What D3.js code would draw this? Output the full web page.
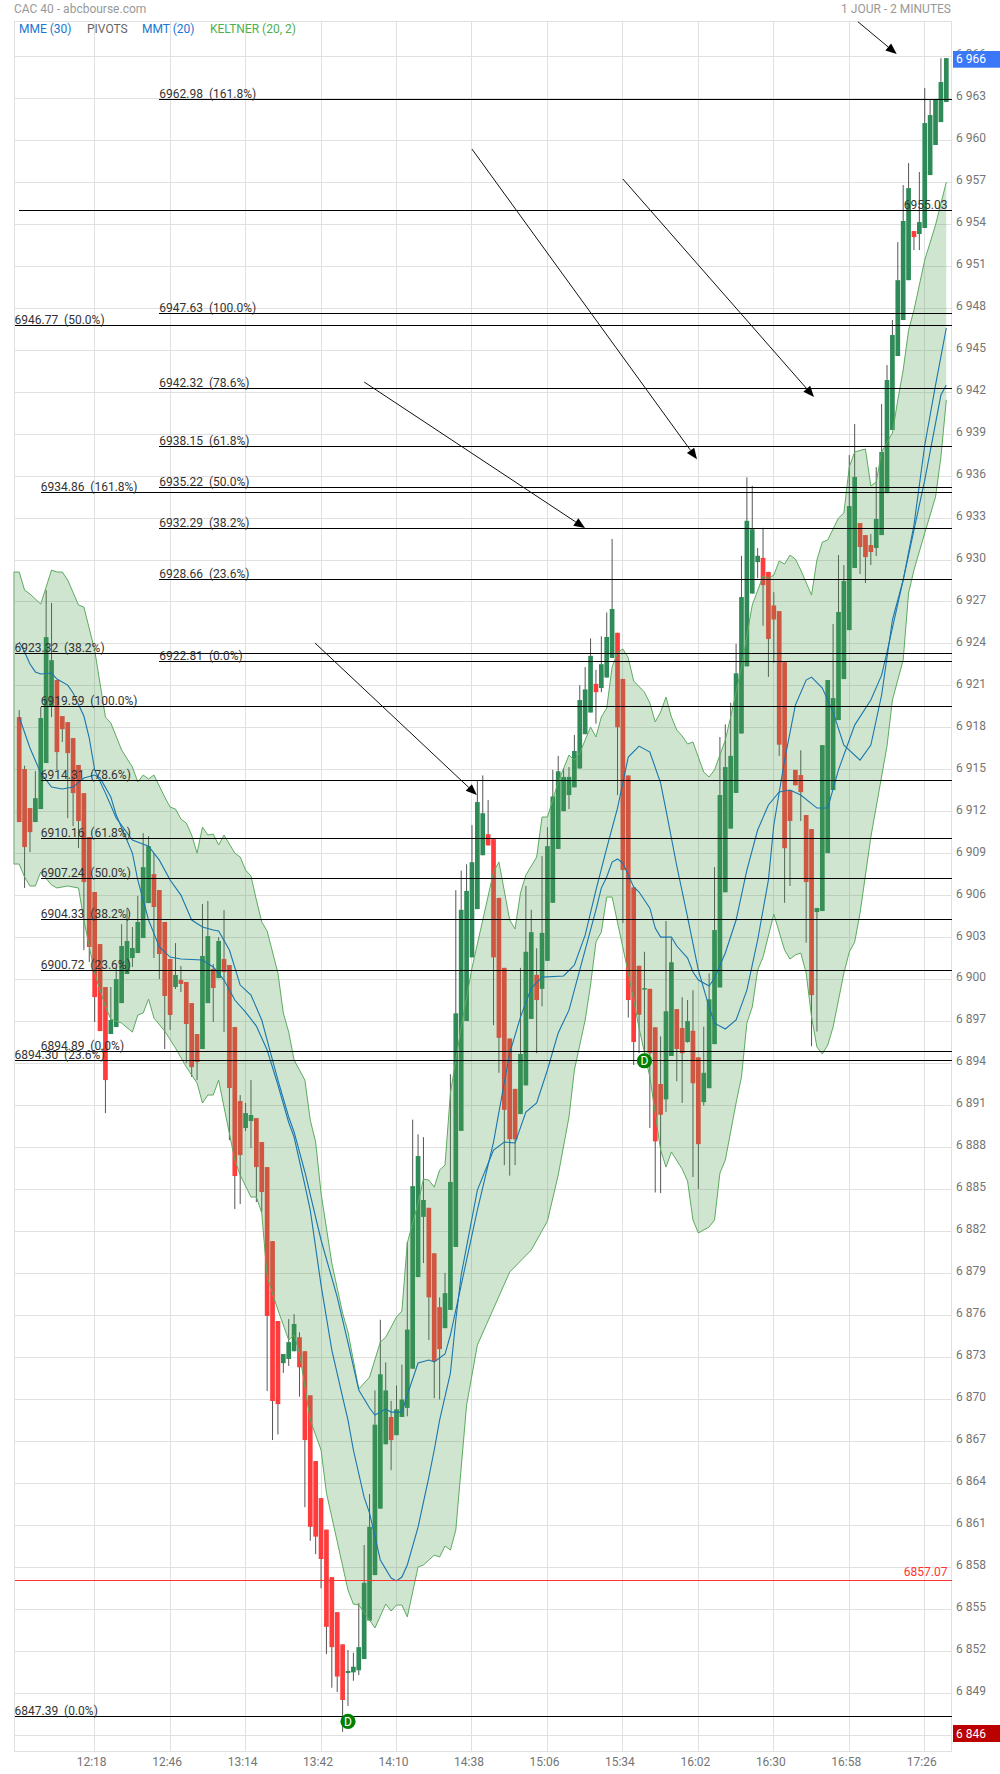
<!DOCTYPE html>
<html><head><meta charset="utf-8">
<style>html,body{margin:0;padding:0;background:#fff}svg{display:block}text{font-family:Roboto,sans-serif}</style>
<script src="https://cdnjs.cloudflare.com/ajax/libs/d3/7.8.5/d3.min.js"></script>
</head><body><svg id="c" width="1000" height="1774"></svg>
<script>
const open=[6918.77,6915.06,6912.27,6911.27,6912.2,6915.49,6919.56,6921.42,6918.84,6918.41,
6917.27,6915.35,6913.34,6910.2,6906.27,6902.55,6899.48,6896.12,6896.62,6898.33,
6900.41,6901.55,6901.91,6902.98,6905.48,6907.55,6906.41,6904.13,6901.48,6899.48,
6899.98,6899.84,6898.33,6896.12,6895.05,6898.33,6900.77,6900.12,6901.48,6901.05,
6896.62,6891.33,6889.4,6889.9,6890.11,6888.4,6886.61,6881.32,6875.61,6872.6,
6872.9,6873.45,6874.45,6873.45,6870.3,6865.6,6862.95,6860.7,6857.3,6854.8,
6852.5,6850.45,6850.5,6850.65,6851.45,6854.2,6857.45,6862.2,6866.8,6868.75,
6867.45,6868.75,6869.4,6872.2,6878.75,6883.05,6883.7,6880.45,6876.6,6875.1,
6876.4,6880.9,6889.2,6897.05,6901.6,6905.05,6908.9,6910.4,6910.05,6905.85,
6900.85,6895.8,6892.2,6890.4,6892.45,6897.2,6900.35,6899.35,6901.35,6905.5,
6909.35,6912.05,6913.2,6913.75,6915.1,6917.55,6919.1,6921.15,6920.85,6921.6,
6923,6924.8,6921.5,6914.6,6906.6,6901,6899.35,6899.35,6896.6,6892.55,
6891.45,6894.55,6897.9,6896.55,6895.55,6896.35,6894.45,6891.25,6892.25,6895.4,
6899.45,6906.25,6910.8,6913.35,6917.6,6922.4,6927.6,6929.85,6930.15,6929.15,
6926.75,6926.35,6922.7,6913.55,6915,6914.63,6911.77,6910.77,6904.84,6904.91,
6909.05,6913.56,6918.56,6921.49,6924.99,6929.43,6932.64,6931.78,6931.07,6930.86,
6931.78,6934.78,6939.29,6944.58,6947.15,6950,6953.51,6953.3,6953.73,6957.51,
6959.66,6961.3,6962.73];
const close=[6911.27,6909.48,6910.55,6912.98,6918.7,6924.49,6922.84,6916.27,6917.91,6916.2,
6913.34,6911.34,6906.98,6902.34,6898.76,6896.33,6892.83,6897.12,6900.05,6902.41,
6902.77,6902.27,6904.13,6908.05,6909.55,6905.2,6901.84,6898.84,6897.48,6900.34,
6899.7,6896.84,6893.76,6894.12,6901.7,6903.12,6899.41,6902.77,6900.55,6892.26,
6885.97,6887.47,6890.47,6890.33,6886.61,6884.83,6875.97,6869.89,6869.67,6873.25,
6874.1,6875.4,6872.3,6867.1,6860.9,6860.2,6858.6,6853.75,6852.3,6850.2,
6848.52,6850.6,6850.9,6852.3,6856.9,6860.9,6868.2,6871.8,6870.65,6867.1,
6869.3,6870,6875,6885.25,6887.4,6884.26,6877.3,6872.75,6873.6,6877.6,
6885.55,6897.6,6905,6906.35,6908.4,6912.7,6911.9,6909.6,6901.6,6895.85,
6890.7,6888.6,6888.6,6894.7,6902,6903.4,6898.55,6903.35,6909.55,6913.1,
6914.9,6914.5,6914.5,6916.35,6919.99,6920.75,6923.15,6920.55,6922.55,6924.5,
6926.5,6918.05,6907.85,6898.55,6895.55,6897.5,6899.4,6894.75,6888.45,6890.35,
6897.75,6901.25,6895.05,6894.75,6897.05,6892.6,6888.25,6893.35,6898.6,6903.55,
6913.2,6915.2,6916,6921.9,6927.35,6932.8,6932.2,6930.3,6928.2,6924.35,
6925.75,6916.8,6909.4,6911.35,6913.9,6913.41,6906.98,6898.9,6905.13,6916.77,
6921.42,6920.13,6926.28,6928.5,6933.86,6935.93,6930.93,6930.21,6930.57,6932.93,
6937.72,6942.86,6946.08,6950,6954.23,6956.58,6953.08,6954.15,6961.23,6961.8,
6962.94,6964.16,6965.87];
const high=[6919.27,6915.3,6912.27,6914.91,6919.49,6927.86,6926.93,6921.42,6918.84,6918.41,
6917.27,6915.35,6913.34,6910.2,6906.27,6902.55,6899.48,6899.48,6900.84,6903.98,
6905.13,6903.77,6905.99,6910.48,6910.27,6909.05,6906.41,6904.13,6901.48,6902.62,
6900.98,6899.84,6898.33,6896.12,6905.41,6905.63,6901.12,6903.05,6904.98,6901.05,
6896.62,6891.76,6891.2,6892.83,6890.11,6888.4,6886.61,6881.32,6875.61,6873.25,
6875.75,6876.1,6874.8,6873.45,6870.3,6865.6,6862.95,6860.7,6857.3,6854.8,
6852.5,6852.1,6851.9,6855.45,6859.6,6863.25,6870.65,6875.7,6872.65,6869.9,
6871,6872.5,6881.25,6890,6888.95,6888.75,6883.7,6880.45,6877.3,6879.05,
6893.25,6906.4,6907.8,6908.25,6911.05,6914.2,6914.6,6912.85,6910.05,6905.85,
6900.85,6895.8,6892.2,6900.85,6906.7,6905,6902.25,6908.85,6910.9,6915,
6916,6915.1,6915.2,6917.5,6921.05,6922.35,6924.4,6922.15,6924.55,6926.25,
6931.5,6924.8,6921.5,6914.6,6906.6,6901,6902,6899.35,6896.6,6895.95,
6904.2,6902.95,6897.9,6898.75,6898.55,6899.25,6894.45,6896.65,6900.45,6908.05,
6917.35,6918.25,6919.8,6924,6930.3,6935.9,6935.3,6930.85,6932.3,6929.15,
6927.7,6926.35,6922.7,6913.55,6915,6916.4,6911.77,6910.77,6905.13,6916.77,
6921.42,6925.42,6930.35,6929.64,6937.5,6939.72,6932.64,6931.78,6931.86,6936.64,
6941.15,6943.93,6947.15,6952.72,6956.8,6958.37,6953.51,6957.73,6963.73,6962.94,
6962.94,6965.87,6965.87];
const low=[6911.27,6906.56,6909.12,6911.27,6912.2,6915.49,6918.77,6914.99,6916.99,6911.55,
6910.98,6909.41,6902.12,6901.27,6896.98,6896.33,6890.47,6896.12,6896.62,6898.33,
6900.41,6900.91,6901.91,6902.98,6905.48,6901.55,6900.05,6895.05,6896.41,6899.34,
6899.12,6894.05,6893.05,6892.83,6895.05,6898.33,6896.98,6900.12,6896.26,6888.54,
6883.62,6883.97,6889.18,6887.97,6884.11,6883.4,6870.6,6867.1,6867.5,6871.9,
6872.4,6873.45,6870.2,6862.3,6859.9,6858.95,6856.5,6851.8,6849.4,6849.1,
6846.25,6848.1,6849.9,6850.3,6851.45,6854.2,6857.45,6862.2,6866.8,6864.95,
6867.45,6868.75,6868.8,6872.2,6878.75,6879.75,6874.25,6870.1,6870,6875.1,
6876.4,6880.9,6889.2,6897.05,6901.6,6905.05,6908.9,6909.6,6896.75,6893.35,
6886.75,6886,6886.75,6890.4,6892.45,6897.2,6894.75,6898.1,6901.35,6905.5,
6909.35,6912.05,6912.2,6913.75,6915.1,6917.55,6919.1,6918.3,6920.55,6921.6,
6923,6913.2,6904.05,6897.3,6893.9,6894.75,6894.3,6889.4,6884.8,6884.75,
6890.55,6894.55,6892.75,6891.2,6895.5,6885.9,6885.05,6891,6892.25,6895.4,
6899.45,6906.25,6910.8,6913.35,6917.6,6922.4,6927.6,6928.7,6925.3,6921.65,
6922.65,6916,6905.5,6906.7,6913.9,6911.34,6902.65,6895.25,6896.3,6904.91,
6909.05,6913.56,6918.56,6921.49,6924.99,6929.43,6929,6928.35,6929.64,6930.28,
6931.78,6934.78,6939.29,6944.58,6947.15,6950,6952.15,6952.15,6953.73,6957.51,
6959.66,6961.3,6962.73];

const keltnerUpper=[[-1,6929.14],[0,6929.14],[1,6927.85],[2,6927.57],[4,6926.85],[6,6929.28],[7,6929.14],[8,6929.14],[9,6928.57],[11,6926.78],[12,6926.64],[14,6923.56],[16,6918.77],[17,6918.35],[19,6916.42],[21,6915.2],[22,6914.13],[23,6914.63],[24,6914.35],[25,6914.63],[27,6913.06],[28,6912.34],[29,6912.2],[30,6911.49],[31,6911.2],[32,6910.34],[33,6909.05],[34,6910.91],[35,6910.34],[36,6910.41],[37,6909.63],[38,6910.34],[40,6909.05],[41,6908.77],[42,6907.84],[43,6907.41],[44,6905.7],[45,6904.13],[46,6903.48],[48,6900.48],[49,6897.62],[50,6896.26],[51,6894.26],[53,6892.83],[54,6889.97],[55,6888.4],[56,6884.75],[58,6879.75],[60,6876.18],[61,6874.82],[63,6870.75],[65,6871.6],[67,6874.1],[68,6874.45],[70,6875.9],[71,6876.32],[72,6881.18],[74,6884.04],[75,6885.76],[76,6885.68],[77,6885.18],[78,6886.4],[79,6886.76],[80,6891.9],[82,6896.62],[84,6900.84],[88,6907.7],[89,6908.42],[91,6904.27],[92,6903.63],[93,6906.2],[94,6907.48],[96,6908.77],[97,6911.63],[98,6911.63],[100,6914.13],[102,6916.06],[103,6915.7],[104,6916.2],[106,6918.06],[107,6917.35],[108,6918.78],[109,6919.42],[110,6922.35],[111,6923.42],[112,6923.64],[113,6923],[114,6921.35],[116,6920.56],[117,6919.78],[118,6918.42],[119,6919.13],[120,6920.2],[121,6918.78],[122,6917.85],[123,6917.42],[124,6916.85],[125,6916.99],[127,6914.84],[128,6914.49],[129,6915],[131,6917.13],[132,6918.78],[134,6922.35],[136,6926.78],[138,6928.85],[139,6928.71],[140,6928.92],[141,6929.93],[142,6929.71],[143,6930.35],[144,6930.07],[145,6929.28],[147,6927.49],[148,6930],[149,6931.28],[150,6931.43],[152,6933],[153,6933.36],[154,6936.64],[155,6937.72],[157,6937.93],[158,6935.29],[159,6935.57],[160,6937.72],[162,6939.07],[163,6941.43],[164,6943.58],[165,6946.43],[166,6947.86],[167,6949.65],[168,6951.44],[170,6953.94],[172,6957.01]];
const keltnerLower=[[-1,6908.27],[0,6908.27],[1,6907.34],[2,6906.7],[3,6906.7],[4,6907.7],[6,6906.77],[7,6906.56],[9,6906.7],[11,6906.56],[12,6904.27],[14,6900.48],[16,6898.05],[17,6897.19],[19,6896.9],[21,6896.26],[22,6897.48],[23,6897.62],[24,6898.62],[25,6897.26],[27,6896.33],[29,6895.12],[31,6893.76],[33,6892.62],[34,6891.19],[35,6891.76],[36,6891.76],[37,6892.83],[38,6890.9],[40,6887.11],[41,6886.04],[43,6884.47],[44,6884.47],[45,6883.33],[46,6878.75],[48,6876.4],[50,6874.25],[51,6874.61],[52,6873.32],[54,6868.53],[56,6866.39],[57,6863.32],[61,6856.38],[62,6855.38],[63,6855.31],[65,6854.24],[66,6853.67],[68,6855.38],[69,6854.88],[70,6855.31],[71,6855.31],[72,6854.46],[74,6858.03],[75,6858.17],[77,6858.88],[78,6858.74],[79,6859.53],[80,6859.24],[81,6860.67],[83,6869.6],[85,6873.89],[91,6879.11],[95,6880.68],[98,6882.75],[100,6886.04],[102,6890.19],[103,6893.55],[105,6897.12],[106,6899.62],[107,6902.69],[108,6903.41],[109,6905.91],[110,6905.91],[113,6900.48],[115,6896.55],[117,6893.05],[119,6887.83],[120,6886.61],[121,6887.69],[123,6886.47],[124,6885.61],[125,6882.83],[126,6881.9],[128,6882.33],[129,6882.83],[130,6886.18],[131,6887.11],[133,6891.19],[134,6893.05],[135,6896.9],[136,6898.05],[137,6900.69],[138,6901.62],[140,6904.69],[142,6902.12],[143,6901.48],[144,6901.77],[145,6901.91],[146,6900.48],[147,6897.33],[148,6895.19],[149,6894.69],[150,6895.33],[151,6896.62],[153,6900.48],[154,6901.98],[155,6902.69],[156,6904.77],[158,6910.2],[161,6916.7],[162,6919.99],[164,6922.85],[165,6927.64],[166,6929.28],[168,6931.93],[170,6934.5],[171,6937.36],[172,6941.43]];
const mme30=[[0,6924.14],[1,6923.42],[2,6922.56],[3,6922],[4,6921.85],[6,6921.92],[7,6921.49],[9,6921.06],[10,6920.49],[12,6918.85],[13,6917.27],[14,6915],[16,6913.34],[18,6911.56],[21,6909.98],[24,6909.55],[26,6908.55],[28,6907.13],[30,6906.05],[32,6904.27],[34,6903.77],[36,6903.55],[37,6903.48],[39,6902.12],[41,6899.62],[43,6898.91],[45,6897.12],[46,6895.69],[48,6892.83],[50,6890.19],[51,6889.12],[53,6886.26],[56,6881.4],[59,6877.32],[61,6874.04],[63,6870.68],[65,6869.39],[66,6868.89],[68,6869.32],[69,6869.1],[71,6869.1],[72,6870.32],[74,6872.61],[76,6872.82],[77,6872.68],[79,6873.25],[80,6874.61],[82,6878.18],[85,6883.54],[88,6888.4],[89,6890.54],[91,6894.76],[93,6897.33],[95,6899.41],[97,6900.19],[101,6900.27],[103,6901.05],[105,6903.19],[107,6906.41],[109,6909.41],[111,6912.27],[113,6915.92],[115,6916.7],[117,6916.27],[119,6914.06],[120,6912.13],[122,6908.13],[124,6904.48],[126,6900.69],[128,6898.05],[129,6896.9],[131,6896.48],[133,6897.12],[135,6899.26],[137,6902.84],[139,6907.13],[140,6911.06],[142,6915.7],[144,6919.63],[146,6921.42],[147,6921.63],[149,6920.85],[151,6919.13],[153,6916.77],[156,6915.7],[158,6916.77],[160,6920.35],[162,6925.71],[164,6928.57],[166,6932.14],[168,6935.71],[171,6941.79],[172,6942.5]];
const mmt20=[[0,6918.78],[2,6916.56],[4,6914.77],[6,6913.77],[8,6913.63],[10,6913.77],[12,6914.42],[14,6914.63],[15,6914.42],[17,6913.06],[18,6911.77],[21,6909.05],[22,6907.13],[24,6904.27],[26,6902.34],[28,6901.62],[30,6901.48],[34,6901.41],[36,6900.91],[38,6899.98],[40,6898.55],[42,6897.69],[44,6896.69],[46,6894.98],[48,6892.48],[50,6889.8],[51,6888.76],[53,6885.33],[54,6883.54],[56,6878.18],[58,6873.53],[60,6870.17],[61,6868.53],[62,6866.39],[64,6863],[65,6861.88],[67,6858.53],[69,6857.24],[70,6857.03],[71,6857.31],[72,6858.17],[74,6860.88],[76,6864.46],[77,6866.39],[78,6868.53],[80,6871.89],[81,6875.68],[82,6878.9],[85,6884.97],[88,6887.83],[90,6888.4],[92,6888.33],[94,6890.55],[96,6891.19],[98,6893.55],[100,6896.2],[102,6897.83],[104,6900.7],[107,6905],[108,6906.55],[109,6907.34],[110,6908.41],[111,6908.63],[112,6908.34],[114,6906.63],[115,6906.27],[117,6905.12],[118,6903.69],[119,6903.05],[121,6903.05],[122,6902.41],[124,6901.55],[125,6900.55],[126,6899.98],[128,6899.55],[129,6900.12],[131,6901.91],[133,6904.27],[135,6907.84],[137,6910.7],[139,6912.49],[141,6913.42],[143,6913.56],[145,6913.2],[148,6912.27],[150,6912.27],[152,6915],[155,6918.2],[158,6919.99],[160,6921.77],[161,6923.42],[164,6928.57],[166,6932.5],[168,6938.2],[170,6942.5],[172,6946.58]];

const yTicks=d3.range(6846,6967,3);
const timeIdx=[14,28,42,56,70,84,98,112,126,140,154,168];
const timeLabels=["12:18","12:46","13:14","13:42","14:10","14:38","15:06","15:34","16:02","16:30","16:58","17:26"];
const fibLevels=[6962.98,6955.03,6947.63,6946.77,6942.32,6938.15,6935.22,6934.86,6932.29,6928.66,6923.32,6922.81,6919.59,6914.31,6910.16,6907.24,6904.33,6900.72,6894.89,6894.30,6847.39];
const fibPct=["161.8%","","100.0%","50.0%","78.6%","61.8%","50.0%","161.8%","38.2%","23.6%","38.2%","0.0%","100.0%","78.6%","61.8%","50.0%","38.2%","23.6%","0.0%","23.6%","0.0%"];
const fibStartIdx=[26,0,26,-1,26,26,26,4,26,26,-1,26,4,4,4,4,4,4,4,-1,-1];
const pivotRed=6857.07;
const arrowsFrom=[[54.9,6924.06],[64,6942.72],[84,6959.37],[112,6957.23],[155.6,6968.47]];
const arrowsTo=[[84.9,6913.2],[104.97,6932.28],[125.75,6937.2],[147.46,6941.65],[162.8,6966.16]];
const dMarkers=[[61,6846.99],[116,6894.21]];
const legend=[["MME (30)","#1976d2",19],["PIVOTS","#666666",87],["MMT (20)","#1976d2",142],["KELTNER (20, 2)","#4caf50",210]];

const L=14.5,R=951.5,T=21.5,B=1751.5;
const x=d3.scaleLinear().domain([0,172]).range([19.2,946.3]);
const y=d3.scaleLinear().domain([6846,6966]).range([1735.3,56.3]);
const svg=d3.select("#c");
const hw=2.35;

// grid
const g=svg.append("g").attr("shape-rendering","crispEdges").attr("stroke","#e0e0e0");
g.selectAll(".h").data(yTicks).join("line").attr("x1",L).attr("x2",R).attr("y1",d=>y(d)).attr("y2",d=>y(d));
g.selectAll(".v").data(timeIdx).join("line").attr("y1",T).attr("y2",B).attr("x1",d=>x(d)).attr("x2",d=>x(d));
g.append("rect").attr("x",L).attr("y",T).attr("width",R-L).attr("height",B-T).attr("fill","none");

// candles
const idx=d3.range(open.length);
const up=i=>close[i]>=open[i];
svg.append("g").selectAll("line").data(idx).join("line").attr("x1",i=>x(i)).attr("x2",i=>x(i))
 .attr("y1",i=>y(high[i])).attr("y2",i=>y(low[i])).attr("stroke","#555").attr("stroke-width",1);
svg.append("g").selectAll("rect").data(idx).join("rect")
 .attr("x",i=>x(i)-hw).attr("width",hw*2)
 .attr("y",i=>y(Math.max(open[i],close[i])))
 .attr("height",i=>Math.max(1.5,Math.abs(y(open[i])-y(close[i]))))
 .attr("fill",i=>up(i)?"#2e8b57":"#ff3b3b");

// keltner
const ln=d3.line().x(d=>x(d[0])).y(d=>y(d[1]));
svg.append("path").attr("d",ln(keltnerUpper.concat(keltnerLower.slice().reverse()))+"Z")
 .attr("fill","rgb(77,159,81)").attr("fill-opacity",0.27).attr("stroke","none");
[keltnerUpper,keltnerLower].forEach(s=>svg.append("path").attr("d",ln(s)).attr("fill","none").attr("stroke","#5cab5f").attr("stroke-width",1));
svg.append("path").attr("d",ln([keltnerUpper[0],keltnerLower[0]])).attr("fill","none").attr("stroke","#5cab5f").attr("stroke-opacity",.7);
[mme30,mmt20].forEach(s=>svg.append("path").attr("d",ln(s)).attr("fill","none").attr("stroke","#1976ad").attr("stroke-width",1.1));

// fib
const fg=svg.append("g");
fibLevels.forEach((v,k)=>{
 const x0=fibStartIdx[k]<0?L:(fibStartIdx[k]===0?19:x(fibStartIdx[k]));
 fg.append("line").attr("x1",x0).attr("x2",R).attr("y1",y(v)+.5).attr("y2",y(v)+.5).attr("stroke","#000").attr("shape-rendering","crispEdges");
 const isR=fibPct[k]==="";
 fg.append("text").attr("x",isR?947.5:x0).attr("y",y(v)-1).attr("text-anchor",isR?"end":"start")
  .attr("font-size",12).attr("fill","#333").text(isR?v.toFixed(2):`${v.toFixed(2)}\u00A0\u00A0(${fibPct[k]})`);
});
fg.append("line").attr("x1",L).attr("x2",R).attr("y1",y(pivotRed)).attr("y2",y(pivotRed)).attr("stroke","#ff3333").attr("shape-rendering","crispEdges");
fg.append("text").attr("x",947.5).attr("y",y(pivotRed)-4).attr("text-anchor","end").attr("font-size",12).attr("fill","#ff3333").text(pivotRed.toFixed(2));

// arrows
arrowsFrom.forEach((a,k)=>{
 const b=arrowsTo[k],x1=x(a[0]),y1=y(a[1]),x2=x(b[0]),y2=y(b[1]);
 const t=Math.atan2(y2-y1,x2-x1),len=11,w=4.5;
 const bx0=x2-len*Math.cos(t),by0=y2-len*Math.sin(t);
 svg.append("line").attr("x1",x1).attr("y1",y1).attr("x2",bx0).attr("y2",by0).attr("stroke","#111").attr("stroke-width",1);
 svg.append("polygon").attr("fill","#000").attr("points",[[x2,y2],[bx0-w*Math.sin(t),by0+w*Math.cos(t)],[bx0+w*Math.sin(t),by0-w*Math.cos(t)]].map(p=>p.join(",")).join(" "));
});

// markers
const mg=svg.append("g").selectAll("g").data(dMarkers).join("g").attr("transform",d=>`translate(${x(d[0])},${y(d[1])})`);
mg.append("circle").attr("r",7.6).attr("fill","#008000");
mg.append("text").attr("text-anchor","middle").attr("y",4.3).attr("font-size",12).attr("fill","#fff").text("D");

// axes
const yAxis=d3.axisRight(y).tickValues(yTicks).tickSize(0).tickPadding(0).tickFormat(d=>"6 "+String(d).slice(1));
const ya=svg.append("g").attr("transform","translate(956,-2.6)").call(yAxis);
ya.select(".domain").remove();
ya.selectAll("text").attr("font-size",12).attr("font-family","Roboto").attr("fill","#757575");
const xAxis=d3.axisBottom(x).tickValues(timeIdx).tickSize(0).tickPadding(0).tickFormat((d,i)=>timeLabels[i]);
const xa=svg.append("g").attr("transform","translate(-3.5,1757)").call(xAxis);
xa.select(".domain").remove();
xa.selectAll("text").attr("font-size",12).attr("font-family","Roboto").attr("fill","#757575");

// tags
svg.append("rect").attr("x",953).attr("y",51).attr("width",47).attr("height",16.7).attr("fill","#3b78f7");
svg.append("text").attr("x",956).attr("y",y(6966)+7).attr("font-size",12).attr("fill","#fff").text("6 966");
svg.append("rect").attr("x",953).attr("y",1725).attr("width",47).attr("height",17).attr("fill","#bb0000");
svg.append("text").attr("x",956).attr("y",1738).attr("font-size",12).attr("fill","#fff").text("6 846");

// titles
svg.append("text").attr("x",14).attr("y",13).attr("font-size",12).attr("fill","#999").text("CAC 40 - abcbourse.com");
svg.append("text").attr("x",951).attr("y",13).attr("text-anchor","end").attr("font-size",12).attr("fill","#999").text("1 JOUR - 2 MINUTES");
svg.append("g").selectAll("text").data(legend).join("text").attr("x",d=>d[2]).attr("y",33).attr("font-size",12).attr("fill",d=>d[1]).text(d=>d[0]);
</script></body></html>
